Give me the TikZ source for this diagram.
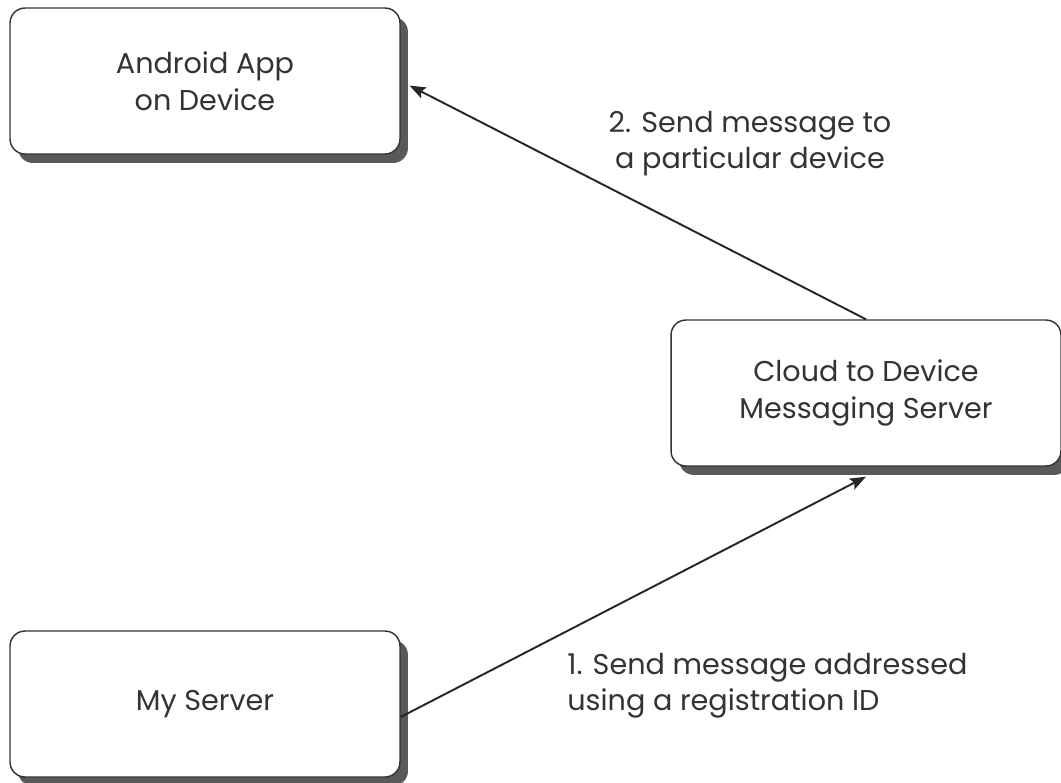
\documentclass[tikz,border=0pt]{standalone}
\usepackage{fontspec}
\setmainfont{Poppins}
\usetikzlibrary{arrows.meta,shadows}

\begin{document}
\begin{tikzpicture}[x=0.02cm, y=-0.02cm,
		box/.style={draw=black!80, line width=0.8pt, rounded corners=0.3cm, fill=white,
			minimum width=7.8cm, minimum height=2.92cm, align=center, text=black!80,
			font=\fontsize{16.3}{20.8}\selectfont,
			drop shadow={shadow xshift=0.16cm, shadow yshift=-0.18cm, fill=black!65, opacity=1}},
		msg/.style={text=black!80, inner sep=0pt, font=\fontsize{16.3}{20.5}\selectfont},
		link/.style={-{Stealth[length=0.32cm, width=0.24cm, inset=0.06cm]}, line width=1.1pt, draw=black!85}]
		\useasboundingbox (0, 0) rectangle (1061, 782);
		\node [box] (android) at (205, 81) {Android App\\on Device};
		\node [box] (cloud) at (866, 393) {Cloud to Device\\Messaging Server};
		\node [box] (server) at (205, 704) {My Server};
		\draw [link, shorten >=0.2cm] (cloud.north) -- (android.east);
		\draw [link] ([yshift=-0.26cm]server.east) -- ([yshift=-0.2cm]cloud.south);
		\node [msg, align=center] (devicemsg) at (750, 144) {2. Send message to\\a particular device};
		\node [msg, align=left, anchor=west] (servermsg) at (567, 686) {1. Send message addressed\\using a registration ID};
	\end{tikzpicture}
\end{document}
